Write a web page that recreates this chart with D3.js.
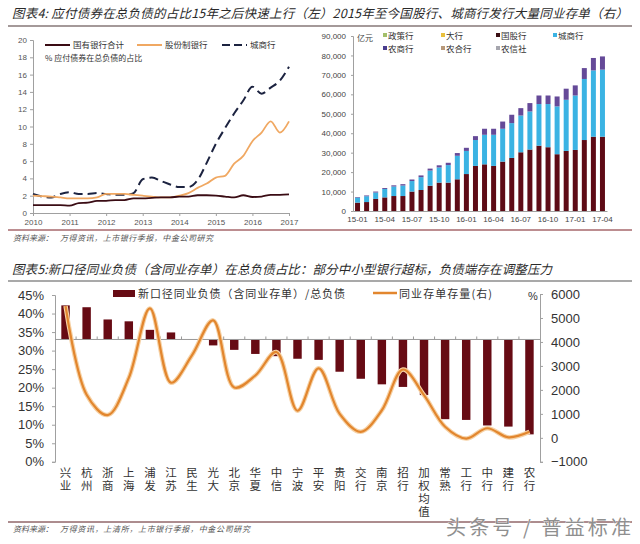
<!DOCTYPE html>
<html><head><meta charset="utf-8">
<script src="https://cdn.jsdelivr.net/npm/d3@7"></script>
<style>body{margin:0;background:#fff}svg{display:block;font-family:"Liberation Sans",Arial,sans-serif}</style>
</head><body>
<svg id="c" width="640" height="544"></svg>
<script>
// ---------- Chart 4 left: 应付债券在总负债的占比 ----------
const bondPeriods = [2010.00,2010.25,2010.50,2010.75,2011.00,2011.25,2011.50,2011.75,2012.00,2012.25,2012.50,2012.75,2013.00,2013.25,2013.50,2013.75,2014.00,2014.25,2014.50,2014.75,2015.00,2015.25,2015.50,2015.75,2016.00,2016.25,2016.50,2016.75,2017.00];
const stateBanks = [0.9,0.9,0.9,0.9,0.85,1.15,1.2,1.4,1.4,1.5,1.5,1.7,1.7,1.75,1.8,1.8,1.9,1.9,2.05,2.05,2.0,1.9,1.8,2.05,1.85,1.9,2.1,2.1,2.15];
const jointStock = [2.0,1.95,1.9,1.8,1.7,1.7,1.7,1.8,2.2,2.2,2.2,2.1,2.0,1.9,1.8,1.8,2.0,2.3,2.9,3.4,4.1,4.3,5.7,6.6,8.3,9.3,10.6,9.3,10.6];
const cityBanks = [2.2,1.9,1.8,2.2,2.4,2.2,2.2,2.3,2.2,2.1,2.1,2.3,3.9,4.1,3.7,3.3,3.0,3.0,3.8,5.8,8.0,9.8,11.5,13.0,14.6,13.8,14.5,15.3,16.9];
const leftYTicks = [0,2,4,6,8,10,12,14,16,18,20];
const leftXTicks = [2010,2011,2012,2013,2014,2015,2016,2017];
const leftSeriesNames = ["国有银行合计","股份制银行","城商行"];

// ---------- Chart 4 right: 同业存单 (亿元) ----------
const months = ["15-01","15-02","15-03","15-04","15-05","15-06","15-07","15-08","15-09","15-10","15-11","15-12","16-01","16-02","16-03","16-04","16-05","16-06","16-07","16-08","16-09","16-10","16-11","16-12","17-01","17-02","17-03","17-04"];
const cdGuogu = [4300,4600,6200,7000,7700,7700,10000,10800,13000,14600,14600,16300,19000,23200,24000,23200,25400,27300,30200,31600,33600,32800,29200,30900,31400,36500,38200,38200];
const cdCity = [2600,3000,3300,4300,4900,5400,5400,6600,7800,7800,9000,12100,11900,13300,15200,16000,16900,17900,18900,19600,21400,22200,24600,26300,28000,31400,34100,34500];
const cdRural = [300,400,500,500,600,700,800,900,1000,1100,1200,1400,1600,2000,3100,3100,3700,4300,3800,4300,4400,4400,5100,5700,5200,5600,6400,6800];
const cdTicks = ["15-01","15-04","15-07","15-10","16-01","16-04","16-07","16-10","17-01","17-04"];
const cdYTicks = [0,10000,20000,30000,40000,50000,60000,70000,80000,90000];
const cdLegend = ["政策行","大行","国股行","城商行","农商行","农合行","农信社"];

// ---------- Chart 5 ----------
const banks = ["兴业","杭州","浙商","上海","浦发","江苏","民生","光大","北京","华夏","中信","宁波","平安","贵阳","交行","南京","招行","加权均值","常熟","工行","中行","建行","农行"];
const interbankRatio = [42.2,41.7,38.4,37.9,35.6,34.9,33.1,31.4,30.2,29.1,28.5,27.8,27.5,24.3,22.4,20.9,20.2,18.0,11.5,11.3,9.8,9.5,7.4];
const cdStock = [5500,1800,950,2500,5400,2300,3450,4900,2100,2600,3580,1130,2900,1000,250,1150,2850,1780,460,-30,400,20,250];
const ratioTicks = [0,5,10,15,20,25,30,35,40,45];
const stockTicks = [-1000,0,1000,2000,3000,4000,5000,6000];
const ratioBase = 33;

const svg = d3.select("#c");
const CJK = '"Noto Sans CJK SC","Noto Sans",sans-serif';

// ===== Titles & rules =====
svg.append("text").attr("x",12).attr("y",18).attr("textLength",616).attr("lengthAdjust","spacing")
  .style("font-family",CJK).style("font-size","12.5px").style("font-style","italic").attr("fill","#2a2a2a")
  .text("图表4: 应付债券在总负债的占比15年之后快速上行（左）2015年至今国股行、城商行发行大量同业存单（右）");
svg.append("line").attr("x1",8).attr("x2",632).attr("y1",26).attr("y2",26).attr("stroke","#4a3434").attr("stroke-width",1.2);
svg.append("line").attr("x1",8).attr("x2",632).attr("y1",230).attr("y2",230).attr("stroke","#7a1c22").attr("stroke-width",1);
svg.append("text").attr("x",13).attr("y",241).style("font-family",CJK).style("font-size","8px").style("font-style","italic").attr("fill","#555").text("资料来源：");
svg.append("text").attr("x",60).attr("y",241).attr("textLength",153).style("font-family",CJK).style("font-size","8px").style("font-style","italic").attr("fill","#555").text("万得资讯，上市银行季报，中金公司研究");

svg.append("text").attr("x",12).attr("y",274).attr("textLength",540).attr("lengthAdjust","spacing")
  .style("font-family",CJK).style("font-size","12.5px").style("font-style","italic").attr("fill","#2a2a2a")
  .text("图表5:新口径同业负债（含同业存单）在总负债占比：部分中小型银行超标，负债端存在调整压力");
svg.append("line").attr("x1",8).attr("x2",632).attr("y1",281).attr("y2",281).attr("stroke","#555").attr("stroke-width",1.2);
svg.append("line").attr("x1",8).attr("x2",632).attr("y1",522).attr("y2",522).attr("stroke","#5a1a1e").attr("stroke-width",1);
svg.append("text").attr("x",13).attr("y",532).style("font-family",CJK).style("font-size","8px").style("font-style","italic").attr("fill","#555").text("资料来源：");
svg.append("text").attr("x",60).attr("y",532).attr("textLength",190).style("font-family",CJK).style("font-size","8px").style("font-style","italic").attr("fill","#555").text("万得资讯，上清所，上市银行季报，中金公司研究");

function styleAxis(g, size, color){
  g.selectAll(".domain").attr("stroke","#a0a0a0");
  g.selectAll(".tick line").attr("stroke","#a0a0a0");
  g.selectAll("text").style("font-size",size).attr("fill",color||"#444").style("font-family",'"Liberation Sans",Arial,sans-serif');
}

// ===== Chart 4 left =====
const xL = d3.scaleLinear().domain([2010,2017]).range([33,289]);
const yL = d3.scaleLinear().domain([0,20]).range([213,40]);
const gL = svg.append("g");
gL.append("g").attr("transform","translate(33,0)").call(d3.axisLeft(yL).tickValues(leftYTicks).tickSize(3).tickPadding(3))
  .call(g=>styleAxis(g,"8px","#555"));
gL.append("g").attr("transform","translate(0,213)").call(d3.axisBottom(xL).tickValues(leftXTicks).tickFormat(d3.format("d")).tickSize(3).tickPadding(3))
  .call(g=>styleAxis(g,"8px","#555"));
const lineL = vals => d3.line().x((d,i)=>xL(bondPeriods[i])).y(d=>yL(d)).curve(d3.curveMonotoneX)(vals);
gL.append("path").attr("d",lineL(cityBanks)).attr("fill","none").attr("stroke","#1c2340").attr("stroke-width",2).attr("stroke-dasharray","9,5");
gL.append("path").attr("d",lineL(jointStock)).attr("fill","none").attr("stroke","#f0a862").attr("stroke-width",1.8);
gL.append("path").attr("d",lineL(stateBanks)).attr("fill","none").attr("stroke","#3a0c14").attr("stroke-width",1.8);
// legend
const legL = [{x:45,c:"#3a0c14",d:null},{x:137,c:"#f0a862",d:null},{x:222,c:"#1c2340",d:"8,4"}];
legL.forEach((l,i)=>{
  svg.append("line").attr("x1",l.x).attr("x2",l.x+25).attr("y1",45).attr("y2",45).attr("stroke",l.c).attr("stroke-width",2).attr("stroke-dasharray",l.d);
  svg.append("text").attr("x",l.x+28).attr("y",48).style("font-family",CJK).style("font-size","8.5px").attr("fill","#333").text(leftSeriesNames[i]);
});
svg.append("text").attr("x",45).attr("y",61).style("font-family",CJK).style("font-size","8px").attr("fill","#333").text("% 应付债券在总负债的占比");

// ===== Chart 4 right =====
const xR = d3.scaleBand().domain(months).range([353,607]).paddingInner(0.45).paddingOuter(0.225);
const yR = d3.scaleLinear().domain([0,90000]).range([211,36]);
const gR = svg.append("g");
gR.append("g").attr("transform","translate(353,0)").call(d3.axisLeft(yR).tickValues(cdYTicks).tickFormat(d3.format(",")).tickSize(2).tickPadding(5))
  .call(g=>styleAxis(g,"8px","#444"));
gR.append("g").attr("transform","translate(0,211)").call(d3.axisBottom(xR).tickValues(cdTicks).tickSize(0).tickPadding(5))
  .call(g=>styleAxis(g,"8px","#444"));
const cdTable = months.map((m,i)=>({m, guogu:cdGuogu[i], city:cdCity[i], rural:cdRural[i]}));
const stack = d3.stack().keys(["guogu","city","rural"])(cdTable);
const stackColors = {guogu:"#5e0b16", city:"#3bb3e3", rural:"#654a98"};
stack.forEach(s=>{
  gR.selectAll(null).data(s).enter().append("rect")
    .attr("x",d=>xR(d.data.m)).attr("width",xR.bandwidth())
    .attr("y",d=>yR(d[1])).attr("height",d=>yR(d[0])-yR(d[1]))
    .attr("fill",stackColors[s.key]);
});
svg.append("text").attr("x",357).attr("y",41).style("font-family",CJK).style("font-size","8px").attr("fill","#444").text("亿元");
const legColors = ["#a3bf6a","#e9c03c","#3a0f14","#3bb3e3","#4a3d8e","#b8997a","#a6a6ae"];
const legPos = [[384,36],[442,36],[497,36],[554,36],[384,49],[442,49],[497,49]];
cdLegend.forEach((n,i)=>{
  svg.append("rect").attr("x",legPos[i][0]-1).attr("y",legPos[i][1]-3).attr("width",4).attr("height",4).attr("fill",legColors[i]);
  svg.append("text").attr("x",legPos[i][0]+4).attr("y",legPos[i][1]+3).style("font-family",CJK).style("font-size","8.5px").attr("fill","#333").text(n);
});

// ===== Chart 5 =====
const xB = d3.scaleBand().domain(banks).range([55,540]).paddingInner(0.6).paddingOuter(0.3);
const yB = d3.scaleLinear().domain([0,45]).range([461.8,295]);
const yB2 = d3.scaleLinear().domain([-1000,6000]).range([461.8,294]);
const gB = svg.append("g");
gB.append("g").attr("transform","translate(55,0)").call(d3.axisLeft(yB).tickValues(ratioTicks).tickFormat(d=>d+"%").tickSize(3).tickPadding(8))
  .call(g=>styleAxis(g,"13px","#333"));
gB.append("g").attr("transform","translate(540,0)").call(d3.axisRight(yB2).tickValues(stockTicks).tickFormat(d3.format("d")).tickSize(3).tickPadding(8))
  .call(g=>styleAxis(g,"13px","#333"));
// bars from base
gB.selectAll(null).data(banks).enter().append("rect")
  .attr("x",d=>xB(d)).attr("width",xB.bandwidth())
  .attr("y",(d,i)=>yB(Math.max(interbankRatio[i],ratioBase)))
  .attr("height",(d,i)=>Math.abs(yB(interbankRatio[i])-yB(ratioBase)))
  .attr("fill","#670b14");
// baseline axis with ticks at band boundaries
gB.append("line").attr("x1",55).attr("x2",540).attr("y1",yB(ratioBase)).attr("y2",yB(ratioBase)).attr("stroke","#9a9a9a");
const step = xB.step();
banks.forEach((b,i)=>{
  const bx = 55 + step*i;
  if(i>0) gB.append("line").attr("x1",bx).attr("x2",bx).attr("y1",yB(ratioBase)).attr("y2",yB(ratioBase)-3).attr("stroke","#9a9a9a");
});
// line
const lineB = d3.line().x((d,i)=>xB(banks[i])+xB.bandwidth()/2).y(d=>yB2(d)).curve(d3.curveCatmullRom.alpha(0.5));
gB.append("path").attr("d",lineB(cdStock)).attr("fill","none").attr("stroke","#f6d2a6").attr("stroke-width",4.5).attr("stroke-linejoin","round");
gB.append("path").attr("d",lineB(cdStock)).attr("fill","none").attr("stroke","#e2862e").attr("stroke-width",2.2).attr("stroke-linejoin","round");
// vertical category labels (one text per label, stacked vertically)
banks.forEach(b=>{
  const cx = xB(b)+xB.bandwidth()/2;
  svg.append("text").attr("x",cx).attr("y",467).attr("writing-mode","vertical-rl")
    .style("font-family",CJK).style("font-size","11.5px").style("letter-spacing","1.5px").attr("fill","#333").text(b);
});
// legend
svg.append("rect").attr("x",113).attr("y",290).attr("width",22).attr("height",7).attr("fill","#670b14");
svg.append("text").attr("x",138).attr("y",297.5).attr("textLength",207).style("font-family",CJK).style("font-size","11px").attr("fill","#333").text("新口径同业负债（含同业存单）/总负债");
svg.append("line").attr("x1",373).attr("x2",397).attr("y1",293).attr("y2",293).attr("stroke","#e2862e").attr("stroke-width",2.5);
svg.append("text").attr("x",399).attr("y",297.5).attr("textLength",93).style("font-family",CJK).style("font-size","11px").attr("fill","#333").text("同业存单存量(右)");
svg.append("text").attr("x",528).attr("y",300).style("font-size","11px").attr("fill","#333").text("%");

// watermark
svg.append("text").attr("x",446).attr("y",535).attr("textLength",185).style("font-family",CJK).style("font-size","20px")
  .attr("fill","#8f8f8f").attr("stroke","#fff").attr("stroke-width",0.6).attr("paint-order","stroke").text("头条号 / 普益标准");
</script>
</body></html>
